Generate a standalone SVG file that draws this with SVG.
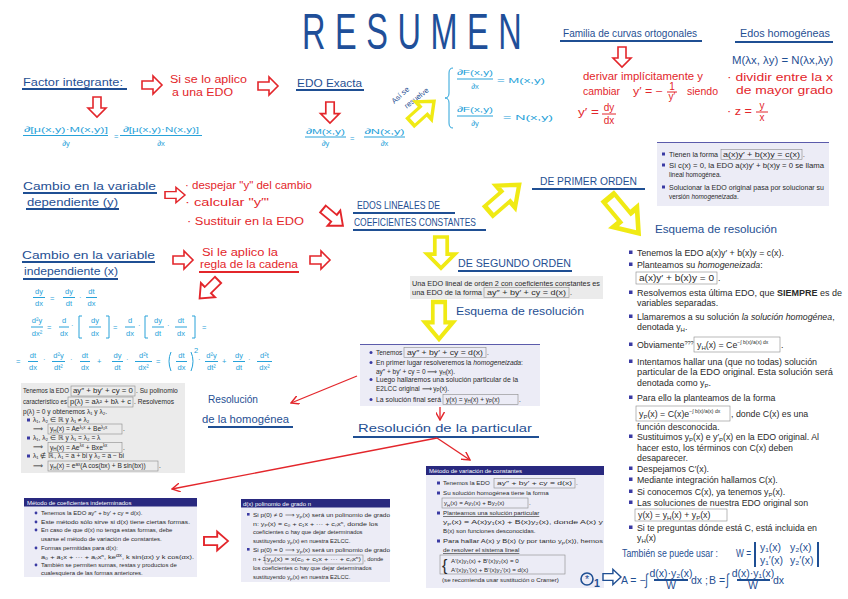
<svg xmlns="http://www.w3.org/2000/svg" width="848" height="599" viewBox="0 0 848 599">
<style>
text{font-family:"Liberation Sans",Arial,sans-serif}
.hw{fill:#1f4f93;font-size:10.5px}
.rd{fill:#e3262b;font-size:10px}
.lb{fill:#28a2d9;font-size:7.5px}
.lbl{stroke:#28a2d9;stroke-width:1;fill:none}
.rdl{stroke:#e3262b;stroke-width:1;fill:none}
.ul{stroke:#1f4f93;stroke-width:2;fill:none}
.ulr{stroke:#e3262b;stroke-width:2;fill:none}
.ra{fill:#fff;stroke:#e3262b;stroke-width:1.6}
.ya{fill:#fff;stroke:#f0ea14;stroke-width:2.4}
.ba{fill:#fff;stroke:#1f4f93;stroke-width:1.6}
.bx{fill:#ececf6}
.gb{fill:#ebebeb}
.tl{stroke:#5b5bab;stroke-width:1.2}
.hd{fill:#29297f}
.ht{fill:#fff;font-size:6px}
.tx{fill:#2a2a2a}
.fb{fill:none;stroke:#8a8a8a;stroke-width:0.6}
.bl{fill:#3a3aa3}
.con{stroke:#e3262b;stroke-width:1.3;fill:none}
</style>
<defs>
<path id="ha" d="M0,-4 H11 V-9 L20,0 L11,9 V4 H0 Z"/>
<marker id="ah" viewBox="0 0 10 10" refX="9" refY="5" markerWidth="9" markerHeight="9" orient="auto" markerUnits="userSpaceOnUse"><path d="M0,0 L9,5 L0,10" fill="none" stroke="#e3262b" stroke-width="1.6"/></marker>
</defs>
<rect width="848" height="599" fill="#fff"/>

<g id="titulo">
<g transform="translate(302,49) scale(0.65,1)"><text x="0" y="0" font-size="50" fill="#1f4f99" textLength="338" lengthAdjust="spacing">RESUMEN</text></g>
</g>

<g id="factor-integrante">
<text class="hw" x="23" y="86" textLength="100" lengthAdjust="spacingAndGlyphs">Factor integrante:</text>
<line class="ul" x1="22" y1="89" x2="127" y2="89"/>
</g>
<g id="si-se-lo-aplico">
<text class="rd" x="170" y="83" textLength="77" lengthAdjust="spacingAndGlyphs">Si se lo aplico</text>
<text class="rd" x="172" y="96" textLength="61" lengthAdjust="spacingAndGlyphs">a una EDO</text>
</g>
<g id="formula-factor">
<text class="lb" x="66" y="132" text-anchor="middle" textLength="84" lengthAdjust="spacingAndGlyphs">∂[μ(x,y)·M(x,y)]</text>
<line class="lbl" x1="23" y1="135.5" x2="108" y2="135.5"/>
<text class="lb" x="66" y="146" text-anchor="middle">∂y</text>
<text class="lb" x="114" y="139">=</text>
<text class="lb" x="161" y="132" text-anchor="middle" textLength="76" lengthAdjust="spacingAndGlyphs">∂[μ(x,y)·N(x,y)]</text>
<line class="lbl" x1="120" y1="135.5" x2="202" y2="135.5"/>
<text class="lb" x="161" y="146" text-anchor="middle">∂x</text>
</g>

<g id="edo-exacta">
<text class="hw" x="297" y="87" textLength="65" lengthAdjust="spacingAndGlyphs">EDO Exacta</text>
<line class="ul" x1="296" y1="90" x2="364" y2="90"/>
</g>
<g id="formula-exacta">
<text class="lb" x="325.5" y="134" text-anchor="middle" textLength="39" lengthAdjust="spacingAndGlyphs">∂M(x,y)</text>
<line class="lbl" x1="305" y1="137" x2="346" y2="137"/>
<text class="lb" x="325.5" y="146" text-anchor="middle">∂y</text>
<text class="lb" x="350" y="141">=</text>
<text class="lb" x="384.5" y="134" text-anchor="middle" textLength="40" lengthAdjust="spacingAndGlyphs">∂N(x,y)</text>
<line class="lbl" x1="364" y1="137" x2="405" y2="137"/>
<text class="lb" x="384.5" y="146" text-anchor="middle">∂x</text>
</g>
<g id="asi-se-resuelve">
<text transform="translate(402,97) rotate(-42)" text-anchor="middle" font-size="7.5" fill="#1f4f93">Así se</text>
<text transform="translate(418,100) rotate(-38)" text-anchor="middle" font-size="7.5" fill="#1f4f93">resuelve</text>
</g>
<g id="sistema-exacta">
<path class="lbl" d="M453,68 q-4,0 -4,5 v20 q0,5 -4,5 q4,0 4,5 v20 q0,5 4,5"/>
<text class="lb" x="475" y="75" text-anchor="middle" textLength="36" lengthAdjust="spacingAndGlyphs">∂F(x,y)</text>
<line class="lbl" x1="457" y1="79" x2="493" y2="79"/>
<text class="lb" x="475" y="89" text-anchor="middle">∂x</text>
<text class="lb" x="497" y="83" textLength="48" lengthAdjust="spacingAndGlyphs">= M(x,y)</text>
<text class="lb" x="475" y="112" text-anchor="middle" textLength="36" lengthAdjust="spacingAndGlyphs">∂F(x,y)</text>
<line class="lbl" x1="457" y1="116" x2="493" y2="116"/>
<text class="lb" x="475" y="126" text-anchor="middle">∂y</text>
<text class="lb" x="503" y="120" textLength="50" lengthAdjust="spacingAndGlyphs">= N(x,y)</text>
</g>

<g id="familia-curvas">
<text class="hw" x="563" y="37" font-size="9" textLength="134" lengthAdjust="spacingAndGlyphs">Familia de curvas ortogonales</text>
<line class="ul" x1="560" y1="41" x2="702" y2="41"/>
</g>
<g id="familia-texto">
<text class="rd" x="583" y="80" textLength="120" lengthAdjust="spacingAndGlyphs">derivar implícitamente y</text>
<text class="rd" x="583" y="95" textLength="37" lengthAdjust="spacingAndGlyphs">cambiar</text>
<text class="rd" x="633" y="95" textLength="30" lengthAdjust="spacingAndGlyphs">y′ = −</text>
<text class="rd" x="672" y="90" font-size="7" text-anchor="middle">1</text>
<line class="rdl" x1="667" y1="92" x2="677" y2="92"/>
<text class="rd" x="672" y="100" font-size="7" text-anchor="middle">y′</text>
<text class="rd" x="687" y="95" textLength="31" lengthAdjust="spacingAndGlyphs">siendo</text>
<text class="rd" x="578" y="116" textLength="21" lengthAdjust="spacingAndGlyphs">y′ =</text>
<text class="rd" x="609" y="111" font-size="9" text-anchor="middle">dy</text>
<line class="rdl" x1="602" y1="114" x2="616" y2="114"/>
<text class="rd" x="609" y="124" font-size="9" text-anchor="middle">dx</text>
</g>

<g id="edos-homogeneas">
<text class="hw" x="740" y="37" font-size="9" textLength="90" lengthAdjust="spacingAndGlyphs">Edos homogéneas</text>
<line class="ul" x1="735" y1="42" x2="833" y2="42"/>
<text class="hw" x="732" y="64" font-size="11" textLength="101" lengthAdjust="spacingAndGlyphs">M(λx, λy) = N(λx,λy)</text>
<text class="rd" x="727" y="81" textLength="106" lengthAdjust="spacingAndGlyphs">· dividir entre la x</text>
<text class="rd" x="736" y="94" textLength="97" lengthAdjust="spacingAndGlyphs">de mayor grado</text>
<text class="rd" x="727" y="115" textLength="25" lengthAdjust="spacingAndGlyphs">· z =</text>
<text class="rd" x="762" y="109" text-anchor="middle">y</text>
<line class="rdl" x1="756" y1="112" x2="768" y2="112"/>
<text class="rd" x="762" y="121" text-anchor="middle">x</text>
</g>

<g id="caja-primer-orden" font-size="6.4">
<rect class="bx" x="657" y="142" width="172" height="64"/>
<line class="tl" x1="657" y1="142.5" x2="829" y2="142.5"/>
<rect class="bl" x="662" y="152.5" width="3" height="3"/>
<text class="tx" x="669" y="157" textLength="49" lengthAdjust="spacingAndGlyphs">Tienen la forma</text>
<rect class="fb" x="721" y="149.5" width="81" height="10"/>
<text class="tx" x="723" y="157" textLength="77" lengthAdjust="spacingAndGlyphs">a(x)y′ + b(x)y = c(x)</text>
<text class="tx" x="803" y="157">.</text>
<rect class="bl" x="662" y="163.5" width="3" height="3"/>
<text class="tx" x="669" y="168" textLength="155" lengthAdjust="spacingAndGlyphs">Si c(x) = 0, la EDO a(x)y′ + b(x)y = 0 se llama</text>
<text class="tx" x="669" y="177">lineal homogénea.</text>
<rect class="bl" x="662" y="185.5" width="3" height="3"/>
<text class="tx" x="669" y="190" textLength="155" lengthAdjust="spacingAndGlyphs">Solucionar la EDO original pasa por solucionar su</text>
<text class="tx" x="669" y="199">versión <tspan font-style="italic">homogeneizada</tspan>.</text>
</g>

<g id="de-primer-orden">
<text class="hw" x="540" y="185" font-size="9" textLength="97" lengthAdjust="spacingAndGlyphs">DE PRIMER ORDEN</text>
<line class="ul" x1="532" y1="189" x2="645" y2="189"/>
</g>

<g id="esquema-primer-titulo">
<text class="hw" x="655" y="233" textLength="122" lengthAdjust="spacingAndGlyphs">Esquema de resolución</text>
</g>

<g id="esquema-primer-lista" font-size="8.8">
<rect class="bl" x="629" y="250.5" width="3.5" height="3.5"/>
<text class="tx" x="637" y="256">Tenemos la EDO a(x)y′ + b(x)y = c(x).</text>
<rect class="bl" x="629" y="262.5" width="3.5" height="3.5"/>
<text class="tx" x="637" y="268">Planteamos su <tspan font-style="italic">homogeneizada</tspan>:</text>
<rect class="fb" x="636" y="272" width="81" height="12"/>
<text class="tx" x="639" y="281" textLength="75" lengthAdjust="spacingAndGlyphs">a(x)y′ + b(x)y = 0</text>
<text class="tx" x="718" y="281">.</text>
<rect class="bl" x="629" y="290.5" width="3.5" height="3.5"/>
<text class="tx" x="637" y="296" textLength="205" lengthAdjust="spacingAndGlyphs">Resolvemos esta última EDO, que <tspan font-weight="bold">SIEMPRE</tspan> es de</text>
<text class="tx" x="637" y="306">variables separadas.</text>
<rect class="bl" x="629" y="314.5" width="3.5" height="3.5"/>
<text class="tx" x="637" y="320">Llamaremos a su solución <tspan font-style="italic">la solución homogénea</tspan>,</text>
<text class="tx" x="637" y="330">denotada y<tspan dy="2" font-size="6">H</tspan><tspan dy="-2">.</tspan></text>
<rect class="bl" x="629" y="342.5" width="3.5" height="3.5"/>
<text class="tx" x="637" y="348">Obviamente<tspan dy="-3" font-size="5.5">???</tspan></text>
<rect class="fb" x="694" y="337" width="86" height="15"/>
<text class="tx" x="697" y="348">y<tspan dy="2" font-size="6">H</tspan><tspan dy="-2">(x) = Ce</tspan><tspan dy="-4" font-size="5">−∫ b(x)/a(x) dx</tspan></text>
<text class="tx" x="781" y="348">.</text>
<rect class="bl" x="629" y="359.5" width="3.5" height="3.5"/>
<text class="tx" x="637" y="365" textLength="180" lengthAdjust="spacingAndGlyphs">Intentamos hallar una (que no todas) solución</text>
<text class="tx" x="637" y="375" textLength="196" lengthAdjust="spacingAndGlyphs">particular de la EDO original. Esta solución será</text>
<text class="tx" x="637" y="386">denotada como y<tspan dy="2" font-size="6">P</tspan><tspan dy="-2">.</tspan></text>
<rect class="bl" x="629" y="395.5" width="3.5" height="3.5"/>
<text class="tx" x="637" y="401">Para ello la planteamos de la forma</text>
<rect class="fb" x="636" y="406" width="94" height="15"/>
<text class="tx" x="639" y="417">y<tspan dy="2" font-size="6">P</tspan><tspan dy="-2">(x) = C(x)e</tspan><tspan dy="-4" font-size="5">−∫ b(x)/a(x) dx</tspan></text>
<text class="tx" x="731" y="417">, donde C(x) es una</text>
<text class="tx" x="637" y="430">función desconocida.</text>
<rect class="bl" x="629" y="434.5" width="3.5" height="3.5"/>
<text class="tx" x="637" y="440" textLength="182" lengthAdjust="spacingAndGlyphs">Sustituimos y<tspan dy="2" font-size="6">P</tspan><tspan dy="-2">(x) e y′</tspan><tspan dy="2" font-size="6">P</tspan><tspan dy="-2">(x) en la EDO original. Al</tspan></text>
<text class="tx" x="637" y="451">hacer esto, los términos con C(x) deben</text>
<text class="tx" x="637" y="461">desaparecer.</text>
<rect class="bl" x="629" y="466.5" width="3.5" height="3.5"/>
<text class="tx" x="637" y="472">Despejamos C′(x).</text>
<rect class="bl" x="629" y="477.5" width="3.5" height="3.5"/>
<text class="tx" x="637" y="483">Mediante integración hallamos C(x).</text>
<rect class="bl" x="629" y="489.5" width="3.5" height="3.5"/>
<text class="tx" x="637" y="495">Si conocemos C(x), ya tenemos y<tspan dy="2" font-size="6">P</tspan><tspan dy="-2">(x).</tspan></text>
<rect class="bl" x="629" y="500.5" width="3.5" height="3.5"/>
<text class="tx" x="637" y="506">Las soluciones de nuestra EDO original son</text>
<rect class="fb" x="635" y="509" width="92" height="12"/>
<text class="tx" x="638" y="518">y(x) = y<tspan dy="2" font-size="6">H</tspan><tspan dy="-2">(x) + y</tspan><tspan dy="2" font-size="6">P</tspan><tspan dy="-2">(x)</tspan></text>
<rect class="bl" x="629" y="525.5" width="3.5" height="3.5"/>
<text class="tx" x="637" y="531">Si te preguntas dónde está C, está incluida en</text>
<text class="tx" x="637" y="541">y<tspan dy="2" font-size="6">H</tspan><tspan dy="-2">(x)</tspan></text>
</g>

<g id="wronskiano">
<text class="hw" x="622" y="557" font-size="8.5" textLength="96" lengthAdjust="spacingAndGlyphs">También se puede usar :</text>
<text class="hw" x="736" y="557" font-size="8.5" textLength="15" lengthAdjust="spacingAndGlyphs">W =</text>
<line class="ul" x1="755" y1="542" x2="755" y2="567" stroke-width="1.5"/>
<line class="ul" x1="818" y1="542" x2="818" y2="567" stroke-width="1.5"/>
<text class="hw" x="760" y="551" font-size="6.5">y₁(x)</text>
<text class="hw" x="790" y="551" font-size="6.5">y₂(x)</text>
<text class="hw" x="760" y="564" font-size="6.5">y₁′(x)</text>
<text class="hw" x="790" y="564" font-size="6.5">y₂′(x)</text>
</g>

<g id="cambio-dependiente">
<text class="hw" x="23" y="190" textLength="133" lengthAdjust="spacingAndGlyphs">Cambio en la variable</text>
<line class="ul" x1="23" y1="193" x2="157" y2="193"/>
<text class="hw" x="27" y="206" textLength="91" lengthAdjust="spacingAndGlyphs">dependiente (y)</text>
<line class="ul" x1="26" y1="209" x2="119" y2="209"/>
</g>
<g id="pasos-dependiente">
<text class="rd" x="185" y="189" textLength="127" lengthAdjust="spacingAndGlyphs">· despejar "y" del cambio</text>
<text class="rd" x="185" y="206" textLength="84" lengthAdjust="spacingAndGlyphs">· calcular "y′"</text>
<text class="rd" x="187" y="225" textLength="117" lengthAdjust="spacingAndGlyphs">· Sustituir en la EDO</text>
</g>

<g id="cambio-independiente">
<text class="hw" x="22" y="259" textLength="133" lengthAdjust="spacingAndGlyphs">Cambio en la variable</text>
<line class="ul" x1="22" y1="262" x2="155" y2="262"/>
<text class="hw" x="24" y="275" textLength="94" lengthAdjust="spacingAndGlyphs">independiente (x)</text>
<line class="ul" x1="23" y1="279" x2="118" y2="279"/>
</g>
<g id="regla-cadena">
<text class="rd" x="202" y="256" textLength="76" lengthAdjust="spacingAndGlyphs">Si le aplico la</text>
<text class="rd" x="200" y="268" textLength="98" lengthAdjust="spacingAndGlyphs">regla de la cadena</text>
<line class="ulr" x1="199" y1="272" x2="299" y2="272"/>
</g>

<g id="formulas-cadena">
<text class="lb" x="39" y="294" text-anchor="middle">dy</text>
<line class="lbl" x1="33" y1="297.5" x2="45" y2="297.5"/>
<text class="lb" x="39" y="306" text-anchor="middle">dx</text>
<text class="lb" x="50" y="301">=</text>
<text class="lb" x="69" y="294" text-anchor="middle">dy</text>
<line class="lbl" x1="63" y1="297.5" x2="75" y2="297.5"/>
<text class="lb" x="69" y="306" text-anchor="middle">dt</text>
<text class="lb" x="79" y="300">·</text>
<text class="lb" x="91.5" y="294" text-anchor="middle">dt</text>
<line class="lbl" x1="86" y1="297.5" x2="97" y2="297.5"/>
<text class="lb" x="91.5" y="306" text-anchor="middle">dx</text>

<text class="lb" x="37" y="323" text-anchor="middle">d²y</text>
<line class="lbl" x1="31" y1="327" x2="43" y2="327"/>
<text class="lb" x="37" y="336" text-anchor="middle">dx²</text>
<text class="lb" x="47" y="330">=</text>
<text class="lb" x="64" y="323" text-anchor="middle">d</text>
<line class="lbl" x1="59" y1="327" x2="69" y2="327"/>
<text class="lb" x="64" y="336" text-anchor="middle">dx</text>
<text class="lb" x="71" y="328">·</text>
<path class="lbl" d="M82,316 h-3 v22 h3"/>
<text class="lb" x="95" y="323" text-anchor="middle">dy</text>
<line class="lbl" x1="89" y1="327" x2="101" y2="327"/>
<text class="lb" x="95" y="336" text-anchor="middle">dx</text>
<path class="lbl" d="M106,316 h3 v22 h-3"/>
<text class="lb" x="113" y="330">=</text>
<text class="lb" x="130" y="323" text-anchor="middle">d</text>
<line class="lbl" x1="125" y1="327" x2="135" y2="327"/>
<text class="lb" x="130" y="336" text-anchor="middle">dx</text>
<text class="lb" x="138" y="328">·</text>
<path class="lbl" d="M148,316 h-3 v22 h3"/>
<text class="lb" x="158" y="323" text-anchor="middle">dy</text>
<line class="lbl" x1="152" y1="327" x2="164" y2="327"/>
<text class="lb" x="158" y="336" text-anchor="middle">dt</text>
<text class="lb" x="167" y="328">·</text>
<text class="lb" x="181" y="323" text-anchor="middle">dt</text>
<line class="lbl" x1="175" y1="327" x2="187" y2="327"/>
<text class="lb" x="181" y="336" text-anchor="middle">dx</text>
<path class="lbl" d="M192,316 h3 v22 h-3"/>
<text class="lb" x="202" y="330">=</text>

<text class="lb" x="16" y="364">=</text>
<text class="lb" x="33" y="358" text-anchor="middle">dt</text>
<line class="lbl" x1="28" y1="361.5" x2="38" y2="361.5"/>
<text class="lb" x="33" y="370" text-anchor="middle">dx</text>
<text class="lb" x="43" y="362">·</text>
<text class="lb" x="58.5" y="358" text-anchor="middle">d²y</text>
<line class="lbl" x1="52" y1="361.5" x2="65" y2="361.5"/>
<text class="lb" x="58.5" y="370" text-anchor="middle">dt²</text>
<text class="lb" x="70" y="362">·</text>
<text class="lb" x="85" y="358" text-anchor="middle">dt</text>
<line class="lbl" x1="80" y1="361.5" x2="90" y2="361.5"/>
<text class="lb" x="85" y="370" text-anchor="middle">dx</text>
<text class="lb" x="97" y="364">+</text>
<text class="lb" x="117.5" y="358" text-anchor="middle">dy</text>
<line class="lbl" x1="112" y1="361.5" x2="123" y2="361.5"/>
<text class="lb" x="117.5" y="370" text-anchor="middle">dt</text>
<text class="lb" x="126" y="362">·</text>
<text class="lb" x="143.5" y="358" text-anchor="middle">d²t</text>
<line class="lbl" x1="135" y1="361.5" x2="152" y2="361.5"/>
<text class="lb" x="143.5" y="370" text-anchor="middle">dx²</text>
<text class="lb" x="156" y="364">=</text>
<path class="lbl" d="M171,352 q-4,9 0,19"/>
<text class="lb" x="181.5" y="358" text-anchor="middle">dt</text>
<line class="lbl" x1="176" y1="361.5" x2="187" y2="361.5"/>
<text class="lb" x="181.5" y="370" text-anchor="middle">dx</text>
<path class="lbl" d="M191,352 q4,9 0,19"/>
<text class="lb" x="194" y="353" font-size="6">2</text>
<text class="lb" x="198" y="362">·</text>
<text class="lb" x="211.5" y="358" text-anchor="middle">d²y</text>
<line class="lbl" x1="205" y1="361.5" x2="218" y2="361.5"/>
<text class="lb" x="211.5" y="370" text-anchor="middle">dt²</text>
<text class="lb" x="222" y="364">+</text>
<text class="lb" x="239" y="358" text-anchor="middle">dy</text>
<line class="lbl" x1="233" y1="361.5" x2="245" y2="361.5"/>
<text class="lb" x="239" y="370" text-anchor="middle">dt</text>
<text class="lb" x="248" y="362">·</text>
<text class="lb" x="264.5" y="358" text-anchor="middle">d²t</text>
<line class="lbl" x1="257" y1="361.5" x2="272" y2="361.5"/>
<text class="lb" x="264.5" y="370" text-anchor="middle">dx²</text>
</g>

<g id="caja-homogenea" font-size="6.6">
<rect class="gb" x="21" y="383" width="164" height="90"/>
<text class="tx" x="23" y="393" textLength="46" lengthAdjust="spacingAndGlyphs">Tenemos la EDO</text>
<rect class="fb" x="71" y="386" width="64" height="10"/>
<text class="tx" x="73" y="393" textLength="60" lengthAdjust="spacingAndGlyphs">ay″ + by′ + cy = 0</text>
<text class="tx" x="136" y="393">. Su polinomio</text>
<text class="tx" x="23" y="404" textLength="44" lengthAdjust="spacingAndGlyphs">característico es</text>
<rect class="fb" x="68" y="397" width="65" height="10"/>
<text class="tx" x="70" y="404" textLength="61" lengthAdjust="spacingAndGlyphs">p(λ) = aλ² + bλ + c</text>
<text class="tx" x="134" y="404">. Resolvemos</text>
<text class="tx" x="23" y="414">p(λ) = 0 y obtenemos λ₁ y λ₂.</text>
<rect class="bl" x="27" y="418.5" width="3" height="3"/>
<text class="tx" x="33" y="422">λ₁, λ₂ ∈ ℝ y λ₁ ≠ λ₂</text>
<text class="tx" x="33" y="431">⟹</text>
<rect class="fb" x="48" y="424" width="74" height="10"/>
<text class="tx" x="50" y="431">y<tspan dy="1.5" font-size="4.5">H</tspan><tspan dy="-1.5">(x) = Ae</tspan><tspan dy="-2.5" font-size="4.5">λ₁x</tspan><tspan dy="2.5"> + Be</tspan><tspan dy="-2.5" font-size="4.5">λ₂x</tspan></text>
<text class="tx" x="123" y="431">.</text>
<rect class="bl" x="27" y="436.5" width="3" height="3"/>
<text class="tx" x="33" y="440">λ₁, λ₂ ∈ ℝ y λ₁ = λ₂ = λ</text>
<text class="tx" x="33" y="449">⟹</text>
<rect class="fb" x="48" y="442.5" width="74" height="10"/>
<text class="tx" x="50" y="449.5">y<tspan dy="1.5" font-size="4.5">H</tspan><tspan dy="-1.5">(x) = Ae</tspan><tspan dy="-2.5" font-size="4.5">λx</tspan><tspan dy="2.5"> + Bxe</tspan><tspan dy="-2.5" font-size="4.5">λx</tspan></text>
<text class="tx" x="123" y="449.5">.</text>
<rect class="bl" x="27" y="454.5" width="3" height="3"/>
<text class="tx" x="33" y="458">λ₁ ∉ ℝ, λ₁ = a + bi y λ₂ = a − bi</text>
<text class="tx" x="33" y="467.5">⟹</text>
<rect class="fb" x="48" y="461" width="110" height="10"/>
<text class="tx" x="50" y="468">y<tspan dy="1.5" font-size="4.5">H</tspan><tspan dy="-1.5">(x) = e</tspan><tspan dy="-2.5" font-size="4.5">ax</tspan><tspan dy="2.5">(A cos(bx) + B sin(bx))</tspan></text>
<text class="tx" x="159" y="468">.</text>
</g>

<g id="resolucion-homogenea">
<text class="hw" x="208" y="403" font-size="10" textLength="50" lengthAdjust="spacingAndGlyphs">Resolución</text>
<text class="hw" x="202" y="423" font-size="10" textLength="87" lengthAdjust="spacingAndGlyphs">de la homogénea</text>
<line class="ul" x1="208" y1="427" x2="293" y2="427"/>
</g>

<g id="edos-lineales">
<text class="hw" x="357" y="209" font-size="8.5" textLength="83" lengthAdjust="spacingAndGlyphs">EDOS LINEALES DE</text>
<line class="ul" x1="353" y1="213" x2="455" y2="213"/>
<text class="hw" x="354" y="226" font-size="8.5" textLength="122" lengthAdjust="spacingAndGlyphs">COEFICIENTES CONSTANTES</text>
<line class="ul" x1="353" y1="230" x2="486" y2="230"/>
</g>

<g id="de-segundo-orden">
<text class="hw" x="458" y="267" font-size="9" textLength="113" lengthAdjust="spacingAndGlyphs">DE SEGUNDO ORDEN</text>
<line class="ul" x1="458" y1="271" x2="572" y2="271"/>
</g>
<g id="caja-segundo-orden" font-size="7">
<rect class="gb" x="410" y="276" width="193" height="23"/>
<text class="tx" x="412" y="285.5" textLength="188" lengthAdjust="spacingAndGlyphs">Una EDO lineal de orden 2 con coeficientes constantes es</text>
<text class="tx" x="412" y="295" textLength="70" lengthAdjust="spacingAndGlyphs">una EDO de la forma</text>
<rect class="fb" x="484" y="287.5" width="85" height="10"/>
<text class="tx" x="487" y="295" textLength="79" lengthAdjust="spacingAndGlyphs">ay″ + by′ + cy = d(x)</text>
<text class="tx" x="570" y="295">.</text>
</g>
<g id="esquema-segundo-titulo">
<text class="hw" x="456" y="315" textLength="128" lengthAdjust="spacingAndGlyphs">Esquema de resolución</text>
</g>
<g id="caja-esquema-segundo" font-size="6.5">
<rect class="bx" x="360" y="344" width="180" height="62"/>
<line class="tl" x1="360" y1="344.5" x2="540" y2="344.5"/>
<circle class="bl" cx="371" cy="352.5" r="1.5"/>
<text class="tx" x="376" y="354.5">Tenemos</text>
<rect class="fb" x="404" y="347.5" width="82" height="10"/>
<text class="tx" x="407" y="354.5" textLength="76" lengthAdjust="spacingAndGlyphs">ay″ + by′ + cy = d(x)</text>
<text class="tx" x="487" y="354.5">.</text>
<circle class="bl" cx="371" cy="362.5" r="1.5"/>
<text class="tx" x="376" y="364.5" textLength="147" lengthAdjust="spacingAndGlyphs">En primer lugar resolveremos la <tspan font-style="italic">homogeneizada</tspan>:</text>
<text class="tx" x="376" y="373.5">ay″ + by′ + cy = 0 ⟹ y<tspan dy="1.5" font-size="4.5">H</tspan><tspan dy="-1.5">(x).</tspan></text>
<circle class="bl" cx="371" cy="379.5" r="1.5"/>
<text class="tx" x="376" y="381.5" textLength="142" lengthAdjust="spacingAndGlyphs">Luego hallaremos una solución particular de la</text>
<text class="tx" x="376" y="390.5">E2LCC original ⟹ y<tspan dy="1.5" font-size="4.5">P</tspan><tspan dy="-1.5">(x).</tspan></text>
<circle class="bl" cx="371" cy="399.5" r="1.5"/>
<text class="tx" x="376" y="401.5" textLength="65" lengthAdjust="spacingAndGlyphs">La solución final será</text>
<rect class="fb" x="443" y="394.5" width="75" height="10"/>
<text class="tx" x="446" y="401.5">y(x) = y<tspan dy="1.5" font-size="4.5">H</tspan><tspan dy="-1.5">(x) + y</tspan><tspan dy="1.5" font-size="4.5">P</tspan><tspan dy="-1.5">(x)</tspan></text>
<text class="tx" x="519" y="401.5">.</text>
</g>

<g id="resolucion-particular">
<text class="hw" x="358" y="432" font-size="11" textLength="174" lengthAdjust="spacingAndGlyphs">Resolución de la particular</text>
<line class="ul" x1="353" y1="437" x2="539" y2="437"/>
</g>

<g id="caja-coef-indeterminados" font-size="6">
<rect class="bx" x="24" y="498" width="173" height="79"/>
<rect class="hd" x="24" y="498" width="173" height="8.5"/>
<text class="ht" x="27" y="505">Método de coeficientes indeterminados</text>
<circle class="bl" cx="36" cy="513" r="1.4"/>
<text class="tx" x="41" y="515">Tenemos la EDO ay″ + by′ + cy = d(x).</text>
<circle class="bl" cx="36" cy="522" r="1.4"/>
<text class="tx" x="41" y="524" textLength="149" lengthAdjust="spacingAndGlyphs">Este método sólo sirve si d(x) tiene ciertas formas.</text>
<circle class="bl" cx="36" cy="530" r="1.4"/>
<text class="tx" x="41" y="532">En caso de que d(x) no tenga estas formas, debe</text>
<text class="tx" x="41" y="541">usarse el método de variación de constantes.</text>
<circle class="bl" cx="36" cy="548" r="1.4"/>
<text class="tx" x="41" y="550">Formas permitidas para d(x):</text>
<text class="tx" x="41" y="558.5" textLength="153" lengthAdjust="spacingAndGlyphs">a₀ + a₁x + ··· + aₙxⁿ, ke<tspan dy="-2" font-size="4.5">αx</tspan><tspan dy="2">, k sin(αx) y k cos(αx).</tspan></text>
<circle class="bl" cx="36" cy="565" r="1.4"/>
<text class="tx" x="41" y="567">También se permiten sumas, restas y productos de</text>
<text class="tx" x="41" y="575">cualesquiera de las formas anteriores.</text>
</g>

<g id="caja-polinomio" font-size="5.8">
<rect class="bx" x="241" y="499" width="149" height="83"/>
<rect class="hd" x="241" y="499" width="149" height="8.5"/>
<text class="ht" x="243" y="506">d(x) polinomio de grado n</text>
<rect class="bl" x="247" y="513" width="2.6" height="2.6"/>
<text class="tx" x="253" y="517" textLength="137" lengthAdjust="spacingAndGlyphs">Si p(0) ≠ 0 ⟹ y<tspan dy="1.5" font-size="4">P</tspan><tspan dy="-1.5">(x) será un polinomio de grado</tspan></text>
<text class="tx" x="253" y="525.5" textLength="125" lengthAdjust="spacingAndGlyphs">n: y<tspan dy="1.5" font-size="4">P</tspan><tspan dy="-1.5">(x) = c₀ + c₁x + ··· + cₙxⁿ, donde los</tspan></text>
<text class="tx" x="253" y="534">coeficientes cᵢ hay que dejar determinados</text>
<text class="tx" x="253" y="543">sustituyendo y<tspan dy="1.5" font-size="4">P</tspan><tspan dy="-1.5">(x) en nuestra E2LCC.</tspan></text>
<rect class="bl" x="247" y="548" width="2.6" height="2.6"/>
<text class="tx" x="253" y="552" textLength="137" lengthAdjust="spacingAndGlyphs">Si p(0) = 0 ⟹ y<tspan dy="1.5" font-size="4">P</tspan><tspan dy="-1.5">(x) será un polinomio de grado</tspan></text>
<text class="tx" x="253" y="561">n + 1:</text>
<rect class="fb" x="265" y="555" width="98" height="9"/>
<text class="tx" x="267" y="561" textLength="94" lengthAdjust="spacingAndGlyphs">y<tspan dy="1.5" font-size="4">P</tspan><tspan dy="-1.5">(x) = x(c₀ + c₁x + ··· + cₙxⁿ)</tspan></text>
<text class="tx" x="364" y="561">, donde</text>
<text class="tx" x="253" y="570">los coeficientes cᵢ hay que dejar determinados</text>
<text class="tx" x="253" y="579">sustituyendo y<tspan dy="1.5" font-size="4">P</tspan><tspan dy="-1.5">(x) en nuestra E2LCC.</tspan></text>
</g>

<g id="caja-variacion-constantes" font-size="6.2">
<rect class="bx" x="426" y="466" width="178" height="122"/>
<rect class="hd" x="426" y="466" width="178" height="9"/>
<text class="ht" x="429" y="473">Método de variación de constantes</text>
<rect class="bl" x="437" y="481.5" width="3" height="3"/>
<text class="tx" x="443" y="485">Tenemos la EDO</text>
<rect class="fb" x="494" y="478.5" width="81" height="9.5"/>
<text class="tx" x="497" y="485" textLength="75" lengthAdjust="spacingAndGlyphs">ay″ + by′ + cy = d(x)</text>
<text class="tx" x="576" y="485">.</text>
<rect class="bl" x="437" y="491.5" width="3" height="3"/>
<text class="tx" x="443" y="495">Su solución homogénea tiene la forma</text>
<rect class="fb" x="442" y="498" width="86" height="10"/>
<text class="tx" x="444" y="505">y<tspan dy="1.5" font-size="4.3">H</tspan><tspan dy="-1.5">(x) = Ay₁(x) + By₂(x)</tspan></text>
<text class="tx" x="529" y="505">.</text>
<rect class="bl" x="437" y="511.5" width="3" height="3"/>
<text class="tx" x="443" y="515" text-decoration="underline">Planteamos una solución particular</text>
<text class="tx" x="443" y="524" textLength="160" lengthAdjust="spacingAndGlyphs">y<tspan dy="1.5" font-size="4.3">P</tspan><tspan dy="-1.5">(x) = A(x)y₁(x) + B(x)y₂(x), donde A(x) y</tspan></text>
<text class="tx" x="443" y="533">B(x) son funciones desconocidas.</text>
<rect class="bl" x="437" y="539.5" width="3" height="3"/>
<text class="tx" x="443" y="543" textLength="160" lengthAdjust="spacingAndGlyphs">Para hallar A(x) y B(x) (y por tanto y<tspan dy="1.5" font-size="4.3">P</tspan><tspan dy="-1.5">(x)), hemos</tspan></text>
<text class="tx" x="443" y="552" text-decoration="underline">de resolver el sistema lineal</text>
<rect class="fb" x="440" y="555" width="125" height="19"/>
<text class="tx" x="442" y="571" font-size="16">{</text>
<text class="tx" x="451" y="563">A′(x)y₁(x) + B′(x)y₂(x) = 0</text>
<text class="tx" x="451" y="572">A′(x)y₁′(x) + B′(x)y₂′(x) = d(x)</text>
<text class="tx" x="442" y="582">(se recomienda usar sustitución o Cramer)</text>
</g>

<g id="formulas-AB">
<circle cx="587" cy="579" r="6" fill="none" stroke="#1f4f93" stroke-width="1.6"/>
<text class="hw" x="587" y="583" font-size="9" text-anchor="middle">*</text>
<text class="hw" x="594" y="587" font-size="7" font-weight="bold">1</text>
<text class="hw" x="621" y="584" font-size="7.5">A = −</text>
<text class="hw" transform="translate(645,585) scale(1,1.5)" font-size="12">∫</text>
<text class="hw" x="671" y="577" font-size="6.3" text-anchor="middle">d(x)·y₂(x)</text>
<line class="ul" x1="654" y1="580" x2="688" y2="580" stroke-width="1"/>
<text class="hw" x="671" y="589" font-size="6.3" text-anchor="middle">W</text>
<text class="hw" x="691" y="584" font-size="7.5">dx ;</text>
<text class="hw" x="709" y="584" font-size="7.5">B =</text>
<text class="hw" transform="translate(726,585) scale(1,1.5)" font-size="12">∫</text>
<text class="hw" x="753" y="577" font-size="6.3" text-anchor="middle">d(x)·y₁(x)</text>
<line class="ul" x1="737" y1="580" x2="770" y2="580" stroke-width="1"/>
<text class="hw" x="753" y="589" font-size="6.3" text-anchor="middle">W</text>
<text class="hw" x="773" y="584" font-size="7.5">dx</text>
</g>

<g id="conectores">
<use href="#ha" class="ra" transform="translate(142,85)"/>
<use href="#ha" class="ra" transform="translate(258,86)"/>
<use href="#ha" class="ra" transform="translate(97,97) rotate(90)"/>
<use href="#ha" class="ra" transform="translate(330,102) rotate(90) scale(1.05,1.05)"/>
<use href="#ha" class="ra" transform="translate(622,47) rotate(90)"/>
<use href="#ha" class="ra" transform="translate(165,195) scale(1,0.85)"/>
<use href="#ha" class="ra" transform="translate(173,260)"/>
<use href="#ha" class="ra" transform="translate(310,260)"/>
<use href="#ha" class="ra" transform="translate(218,280) rotate(135) scale(1.3,1.1)"/>
<use href="#ha" class="ra" transform="translate(323,209) rotate(40) scale(1.3,1.1)"/>
<use href="#ha" class="ra" transform="translate(204,541) scale(1.2,1.05)"/>
<use href="#ha" class="ya" transform="translate(411,122) rotate(-42) scale(1.55,1.3)"/>
<use href="#ha" class="ya" transform="translate(489,211) rotate(-41) scale(2,1.6)"/>
<use href="#ha" class="ya" transform="translate(609,198) rotate(50) scale(2.3,1.7)"/>
<use href="#ha" class="ya" transform="translate(441,237) rotate(90) scale(1.55,1.55)"/>
<use href="#ha" class="ya" transform="translate(439,302) rotate(90) scale(1.85,1.55)"/>
<use href="#ha" class="ba" transform="translate(603,577) scale(0.9,0.85)"/>
<line class="con" x1="440" y1="407" x2="440" y2="420" marker-end="url(#ah)"/>
<line class="con" x1="437" y1="438" x2="172" y2="489" marker-end="url(#ah)"/>
<line class="con" x1="437" y1="438" x2="470" y2="460" marker-end="url(#ah)"/>
<line class="con" x1="357" y1="376" x2="291" y2="403" marker-end="url(#ah)"/>
</g>
</svg>
